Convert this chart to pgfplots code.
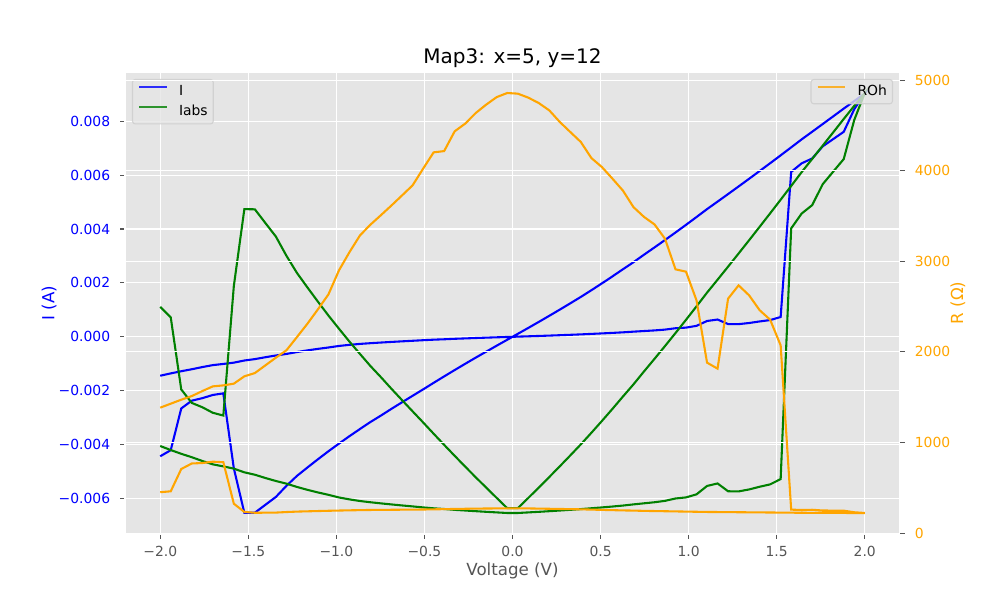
\documentclass[border=0pt]{standalone}
\usepackage{fontspec}
\setmainfont{DejaVu Sans}
\usepackage{pgfplots}
\pgfplotsset{compat=1.18}
\usepackage{pgfplotstable}

\definecolor{bggray}{HTML}{E5E5E5}
\definecolor{tickgray}{HTML}{555555}
\definecolor{legedge}{HTML}{CCCCCC}
\definecolor{mplblue}{RGB}{0,0,255}
\definecolor{mplgreen}{RGB}{0,128,0}
\definecolor{mplorange}{RGB}{255,165,0}

% V = voltage, I = current, Iabs = |I|, R = ROh
\pgfplotstableread{
V I Iabs R
-2.0000 -0.0044346 0.0044346 451
-1.9403 -0.0042089 0.0042089 461
-1.8806 -0.0026600 0.0026600 707
-1.8209 -0.0023710 0.0023710 768
-1.7612 -0.0022784 0.0022784 773
-1.7015 -0.0021593 0.0021593 788
-1.6418 -0.0020995 0.0020995 782
-1.5821 -0.0048830 0.0048830 324
-1.5224 -0.0065339 0.0065339 233
-1.4627 -0.0065299 0.0065299 224
-1.4030 -0.0062356 0.0062356 225
-1.3433 -0.0059438 0.0059438 226
-1.2836 -0.0055328 0.0055328 232
-1.2239 -0.0051641 0.0051641 237
-1.1642 -0.0048508 0.0048508 240
-1.1045 -0.0045453 0.0045453 243
-1.0448 -0.0042472 0.0042472 246
-0.9851 -0.0039642 0.0039642 248.5
-0.9254 -0.0036869 0.0036869 251
-0.8657 -0.0034217 0.0034217 253
-0.8060 -0.0031608 0.0031608 255
-0.7463 -0.0029209 0.0029209 255.5
-0.6866 -0.0026716 0.0026716 257
-0.6269 -0.0024298 0.0024298 258
-0.5672 -0.0021900 0.0021900 259
-0.5075 -0.0019519 0.0019519 260
-0.4478 -0.0017092 0.0017092 262
-0.3881 -0.0014701 0.0014701 264
-0.3284 -0.0012346 0.0012346 266
-0.2687 -0.0010026 0.0010026 268
-0.2090 -0.0007741 0.0007741 270
-0.1493 -0.0005509 0.0005509 271
-0.0896 -0.0003294 0.0003294 272
-0.0299 -0.0001095 0.0001095 273
0.0299 0.0001095 0.0001095 273
0.0896 0.0003294 0.0003294 272
0.1493 0.0005530 0.0005530 270
0.2090 0.0007799 0.0007799 268
0.2687 0.0010102 0.0010102 266
0.3284 0.0012439 0.0012439 264
0.3881 0.0014813 0.0014813 262
0.4478 0.0017290 0.0017290 259
0.5075 0.0019824 0.0019824 256
0.5672 0.0022419 0.0022419 253
0.6269 0.0025076 0.0025076 250
0.6866 0.0027685 0.0027685 248
0.7463 0.0030461 0.0030461 245
0.8060 0.0033169 0.0033169 243
0.8657 0.0035921 0.0035921 241
0.9254 0.0038720 0.0038720 239
0.9851 0.0041565 0.0041565 237
1.0448 0.0044460 0.0044460 235
1.1045 0.0047403 0.0047403 233
1.1642 0.0050181 0.0050181 232
1.2239 0.0052983 0.0052983 231
1.2836 0.0055809 0.0055809 230
1.3433 0.0058659 0.0058659 229
1.4030 0.0061535 0.0061535 228
1.4627 0.0064436 0.0064436 227
1.5224 0.0067363 0.0067363 226
1.5821 0.0070316 0.0070316 225
1.6418 0.0073295 0.0073295 224
1.7015 0.0076130 0.0076130 223.5
1.7612 0.0078978 0.0078978 223
1.8209 0.0081838 0.0081838 222.5
1.8806 0.0084712 0.0084712 222
1.9403 0.0087519 0.0087519 221.7
2.0000 0.0090293 0.0090293 221.5
2.0000 0.0090293 0.0090293 221.5
1.9403 0.0084500 0.0084500 229.6
1.8806 0.0076100 0.0076100 247.1
1.8209 0.0073400 0.0073400 248.1
1.7612 0.0070700 0.0070700 249.1
1.7015 0.0066200 0.0066200 257.0
1.6418 0.0064400 0.0064400 254.9
1.5821 0.0061200 0.0061200 258.5
1.5224 0.0007350 0.0007350 2072
1.4627 0.0006210 0.0006210 2355
1.4030 0.0005700 0.0005700 2460
1.3433 0.0005120 0.0005120 2624
1.2836 0.0004700 0.0004700 2734
1.2239 0.0004730 0.0004730 2587
1.1642 0.0006410 0.0006410 1815
1.1045 0.0005870 0.0005870 1881
1.0448 0.0004070 0.0004070 2568
0.9851 0.0003410 0.0003410 2885
0.9254 0.0003180 0.0003180 2911
0.8657 0.0002670 0.0002670 3249
0.8060 0.0002370 0.0002370 3407
0.7463 0.0002140 0.0002140 3490
0.6866 0.0001910 0.0001910 3598
0.6269 0.0001660 0.0001660 3780
0.5672 0.0001450 0.0001450 3912
0.5075 0.0001260 0.0001260 4040
0.4478 0.0001080 0.0001080 4139
0.3881 0.0000899 0.0000899 4316
0.3284 0.0000741 0.0000741 4426
0.2687 0.0000593 0.0000593 4537
0.2090 0.0000448 0.0000448 4665
0.1493 0.0000314 0.0000314 4746
0.0896 0.0000187 0.0000187 4806
0.0299 0.0000062 0.0000062 4850
-0.0299 -0.0000062 0.0000062 4857
-0.0896 -0.0000187 0.0000187 4812
-0.1493 -0.0000315 0.0000315 4729
-0.2090 -0.0000451 0.0000451 4636
-0.2687 -0.0000595 0.0000595 4519
-0.3284 -0.0000740 0.0000740 4434
-0.3881 -0.0000920 0.0000920 4216
-0.4478 -0.0001066 0.0001066 4202
-0.5075 -0.0001263 0.0001263 4022
-0.5672 -0.0001477 0.0001477 3838
-0.6269 -0.0001682 0.0001682 3727
-0.6866 -0.0001899 0.0001899 3617
-0.7463 -0.0002125 0.0002125 3510
-0.8060 -0.0002367 0.0002367 3405
-0.8657 -0.0002635 0.0002635 3286
-0.9254 -0.0002983 0.0002983 3101
-0.9851 -0.0003397 0.0003397 2900
-1.0448 -0.0003966 0.0003966 2635
-1.1045 -0.0004474 0.0004474 2470
-1.1642 -0.0005037 0.0005037 2311
-1.2239 -0.0005659 0.0005659 2163
-1.2836 -0.0006366 0.0006366 2017
-1.3433 -0.0006937 0.0006937 1936
-1.4030 -0.0007580 0.0007580 1851
-1.4627 -0.0008284 0.0008284 1766
-1.5224 -0.0008798 0.0008798 1730
-1.5821 -0.0009594 0.0009594 1649
-1.6418 -0.0010074 0.0010074 1630
-1.7015 -0.0010513 0.0010513 1619
-1.7612 -0.0011238 0.0011238 1567
-1.8209 -0.0012044 0.0012044 1512
-1.8806 -0.0012779 0.0012779 1472
-1.9403 -0.0013585 0.0013585 1428
-2.0000 -0.0014451 0.0014451 1384
}\datatable

\pgfplotsset{
  mybase/.style={
    scale only axis, width=558bp, height=332.64bp,
    at={(90bp,47.52bp)}, anchor=south west,
    xmin=-2.2, xmax=2.2,
    tick label style={font=\fontsize{10bp}{12bp}\selectfont},
    tick align=outside, major tick length=3.5bp,
    tick style={tickgray, line width=0.8bp},
    major grid style={white, line width=0.8bp},
    legend cell align=left,
    legend image code/.code={\draw[##1] (0bp,3.6bp) -- (20bp,3.6bp);},
    legend style={
      fill=bggray, fill opacity=0.8, draw=legedge, draw opacity=0.8, text opacity=1,
      rounded corners=2bp, line width=0.8bp,
      inner xsep=4bp, inner ysep=4bp,
      font=\fontsize{10bp}{12bp}\selectfont,
      row sep=5bp,
      nodes={inner sep=0pt, text height=7.5bp, text depth=2bp},
      /tikz/every odd column/.append style={column sep=8bp},
    },
  },
}

\begin{document}
\begin{tikzpicture}
\useasboundingbox (0,0) rectangle (720bp,432bp);
% left axis: I
\begin{axis}[mybase,
  ymin=-0.00732, ymax=0.00983,
  axis background/.style={fill=bggray},
  axis line style={draw=white, line width=1bp},
  xmajorgrids, ymajorgrids,
  xtick pos=left, ytick pos=left,
  xtick={-2,-1.5,-1,-0.5,0,0.5,1,1.5,2},
  xticklabels={−2.0,−1.5,−1.0,−0.5,0.0,0.5,1.0,1.5,2.0},
  ytick={-0.006,-0.004,-0.002,0,0.002,0.004,0.006,0.008},
  yticklabels={−0.006,−0.004,−0.002,0.000,0.002,0.004,0.006,0.008},
  scaled y ticks=false,
  xticklabel style={anchor=north, inner sep=0pt, yshift=-5.4bp, text=tickgray},
  yticklabel style={anchor=east, inner sep=0pt, xshift=-7bp, text=mplblue},
  xlabel={Voltage (V)},
  xlabel style={at={(axis description cs:0.5,0)}, anchor=base, yshift=-30.2bp, text=tickgray, font=\fontsize{12bp}{14bp}\selectfont},
  ylabel={I (A)},
  ylabel style={at={(axis description cs:-0.09122,0.5)}, anchor=base, text=mplblue, font=\fontsize{12bp}{14bp}\selectfont},
  title={Map3: x=5, y=12},
  title style={at={(axis description cs:0.5,1)}, anchor=base, font=\fontsize{14.4bp}{17bp}\selectfont},
  legend style={at={(axis description cs:0,1)}, anchor=north west, xshift=5bp, yshift=-5bp},
]
\addplot[mplblue, line width=1.5bp, no marks] table[x=V, y=I]{\datatable};
\addlegendentry{I}
\addlegendimage{mplgreen, line width=1.5bp}
\addlegendentry{Iabs}
\end{axis}
% hidden axis: Iabs
\begin{axis}[mybase, ymin=-0.000445, ymax=0.009480, hide axis]
\addplot[mplgreen, line width=1.5bp, no marks] table[x=V, y=Iabs]{\datatable};
\end{axis}
% right axis: R
\begin{axis}[mybase,
  ymin=-10.3, ymax=5089,
  axis line style={draw=none},
  xtick=\empty,
  ytick={0,1000,2000,3000,4000,5000},
  yticklabels={0,1000,2000,3000,4000,5000},
  ytick pos=right, yticklabel pos=right,
  ymajorgrids,
  yticklabel style={anchor=west, inner sep=0pt, xshift=7bp, text=mplorange},
  ylabel={R (Ω)},
  ylabel style={at={(axis description cs:1.08154,0.5)}, anchor=base, text=mplorange, font=\fontsize{12bp}{14bp}\selectfont},
  legend style={at={(axis description cs:1,1)}, anchor=north east, xshift=-5bp, yshift=-5bp},
]
\addplot[mplorange, line width=1.5bp, no marks] table[x=V, y=R]{\datatable};
\addlegendentry{ROh}
\end{axis}
\end{tikzpicture}
\end{document}
